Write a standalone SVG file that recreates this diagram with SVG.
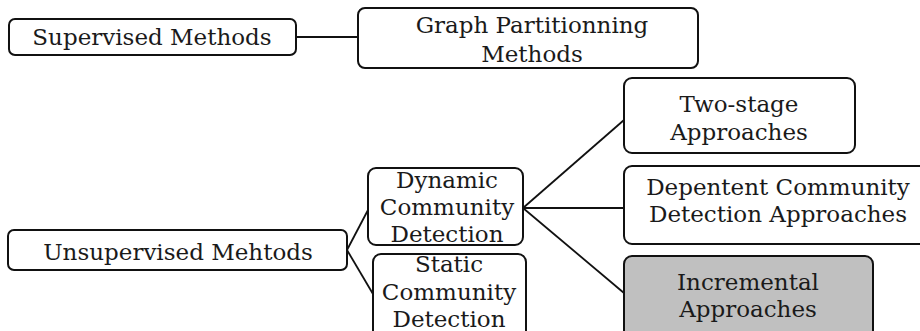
<svg xmlns="http://www.w3.org/2000/svg" width="920" height="331" viewBox="0 0 920 331">
<style>
.box{fill:#fff;stroke:#111;stroke-width:2}
.grey{fill:#c0c0c0}
.t{font-family:"DejaVu Serif","Liberation Serif",serif;font-size:23px;fill:#1a1a1a;text-anchor:middle}
.c{stroke:#111;stroke-width:1.8;fill:none}
</style>
<rect width="920" height="331" fill="#fff"/>
<g id="connectors">
<line class="c" x1="296" y1="37" x2="358" y2="37"/>
<line class="c" x1="347" y1="250" x2="368" y2="210"/>
<line class="c" x1="347" y1="250" x2="373" y2="294"/>
<line class="c" x1="523" y1="208" x2="624" y2="120"/>
<line class="c" x1="523" y1="208" x2="624" y2="208"/>
<line class="c" x1="523" y1="208" x2="624" y2="293"/>
</g>
<g id="supervised">
<rect class="box" x="9" y="19" width="287" height="36" rx="6"/>
<text class="t" x="152" y="45">Supervised Methods</text>
</g>
<g id="graph">
<rect class="box" x="358" y="8" width="340" height="60" rx="7"/>
<text class="t" x="532" y="33">Graph Partitionning</text>
<text class="t" x="532" y="62">Methods</text>
</g>
<g id="unsupervised">
<rect class="box" x="8" y="230" width="339" height="40" rx="6"/>
<text class="t" x="178" y="260">Unsupervised Mehtods</text>
</g>
<g id="dynamic">
<rect class="box" x="368" y="168" width="155" height="77" rx="8"/>
<text class="t" x="447" y="188">Dynamic</text>
<text class="t" x="447" y="215">Community</text>
<text class="t" x="447" y="242">Detection</text>
</g>
<g id="static">
<rect class="box" x="373" y="254" width="153" height="90" rx="8"/>
<text class="t" x="449" y="272">Static</text>
<text class="t" x="449" y="300">Community</text>
<text class="t" x="449" y="327">Detection</text>
</g>
<g id="twostage">
<rect class="box" x="624" y="78" width="231" height="75" rx="8"/>
<text class="t" x="739" y="112">Two-stage</text>
<text class="t" x="739" y="140">Approaches</text>
</g>
<g id="dependent">
<rect class="box" x="624" y="166" width="310" height="78" rx="8"/>
<text class="t" x="778" y="195">Depentent Community</text>
<text class="t" x="778" y="222">Detection Approaches</text>
</g>
<g id="incremental">
<rect class="box grey" x="624" y="256" width="249" height="90" rx="8"/>
<text class="t" x="748" y="290">Incremental</text>
<text class="t" x="748" y="317">Approaches</text>
</g>
</svg>
